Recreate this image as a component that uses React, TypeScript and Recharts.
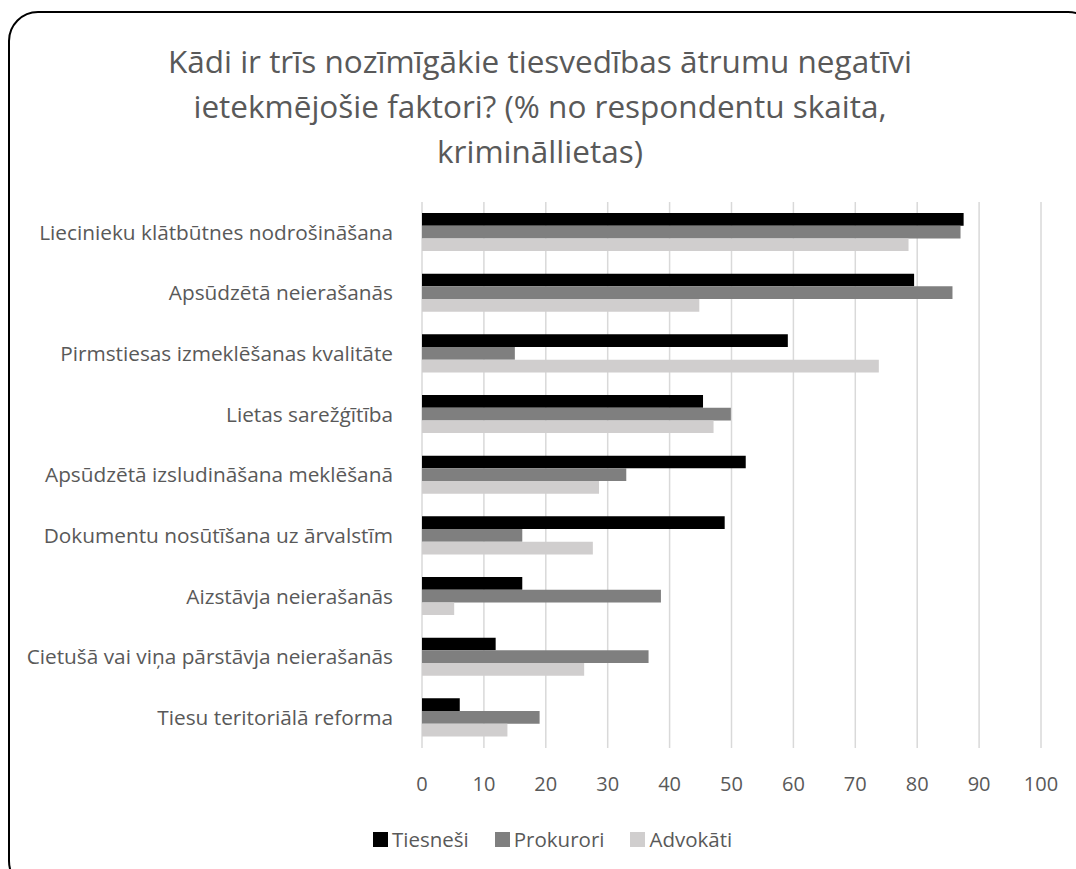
import React from "react";
import {
  BarChart,
  Bar,
  XAxis,
  YAxis,
  CartesianGrid,
} from "recharts";

const categories = [
  "Liecinieku klātbūtnes nodrošināšana",
  "Apsūdzētā neierašanās",
  "Pirmstiesas izmeklēšanas kvalitāte",
  "Lietas sarežģītība",
  "Apsūdzētā izsludināšana meklēšanā",
  "Dokumentu nosūtīšana uz ārvalstīm",
  "Aizstāvja neierašanās",
  "Cietušā vai viņa pārstāvja neierašanās",
  "Tiesu teritoriālā reforma",
];

const tiesnesi = [87.5, 79.5, 59.1, 45.4, 52.3, 48.9, 16.2, 11.9, 6.1];
const prokurori = [87.0, 85.7, 15.0, 49.9, 33.0, 16.2, 38.6, 36.6, 19.0];
const advokati = [78.6, 44.8, 73.8, 47.1, 28.6, 27.6, 5.2, 26.2, 13.8];

const xTicks = [0, 10, 20, 30, 40, 50, 60, 70, 80, 90, 100];

const titleLines = [
  "Kādi ir trīs nozīmīgākie tiesvedības ātrumu negatīvi",
  "ietekmējošie faktori? (% no respondentu skaita,",
  "krimināllietas)",
];

const series = [
  { key: "tiesnesi", name: "Tiesneši", color: "#000000" },
  { key: "prokurori", name: "Prokurori", color: "#7f7f7f" },
  { key: "advokati", name: "Advokāti", color: "#d0cece" },
];

const data = categories.map((name, i) => ({
  name,
  tiesnesi: tiesnesi[i],
  prokurori: prokurori[i],
  advokati: advokati[i],
}));

const FONT = "'Open Sans', sans-serif";
const TEXT = "#595959";

export default function App() {
  return (
    <div
      style={{
        position: "absolute",
        left: 0,
        top: 0,
        width: 1076,
        height: 869,
        overflow: "hidden",
        background: "#fff",
      }}
    >
      <div
        style={{
          position: "absolute",
          left: 8,
          top: 11,
          width: 1090,
          height: 880,
          border: "2px solid #000",
          borderRadius: 30,
          boxSizing: "border-box",
        }}
      />
      <div
        style={{
          position: "absolute",
          left: 0,
          top: 38,
          width: 1080,
          textAlign: "center",
          fontFamily: FONT,
          fontSize: 31.5,
          lineHeight: "45px",
          color: TEXT,
        }}
      >
        {titleLines.map((t) => (
          <div key={t}>{t}</div>
        ))}
      </div>
      <div style={{ position: "absolute", left: 0, top: 0 }}>
        <BarChart
          width={1076}
          height={869}
          data={data}
          layout="vertical"
          margin={{ top: 202, right: 35, bottom: 0, left: 0 }}
          barGap={0}
        >
          <CartesianGrid horizontal={false} stroke="#d9d9d9" strokeWidth={1.5} />
          <XAxis
            type="number"
            domain={[0, 100]}
            ticks={xTicks}
            interval={0}
            axisLine={false}
            tickLine={false}
            tickSize={0}
            tickMargin={29}
            tick={{ fill: TEXT, fontSize: 20, fontFamily: FONT }}
            height={121}
          />
          <YAxis
            type="category"
            dataKey="name"
            width={422}
            axisLine={false}
            tickLine={false}
            tickSize={0}
            tickMargin={29}
            interval={0}
            tick={{ fill: TEXT, fontSize: 20.8, fontFamily: FONT }}
          />
          {series.map((s) => (
            <Bar
              key={s.key}
              dataKey={s.key}
              name={s.name}
              fill={s.color}
              barSize={12.7}
              isAnimationActive={false}
            />
          ))}
        </BarChart>
      </div>
      <div
        style={{
          position: "absolute",
          left: 373,
          top: 825,
          display: "flex",
          alignItems: "center",
          fontFamily: FONT,
          fontSize: 20.5,
          color: TEXT,
        }}
      >
        {series.map((s, i) => (
          <div key={s.key} style={{ display: "flex", alignItems: "center", marginLeft: i === 0 ? 0 : 26 }}>
            <span style={{ width: 15, height: 15, background: s.color, display: "inline-block", marginRight: 4 }} />
            <span>{s.name}</span>
          </div>
        ))}
      </div>
    </div>
  );
}
